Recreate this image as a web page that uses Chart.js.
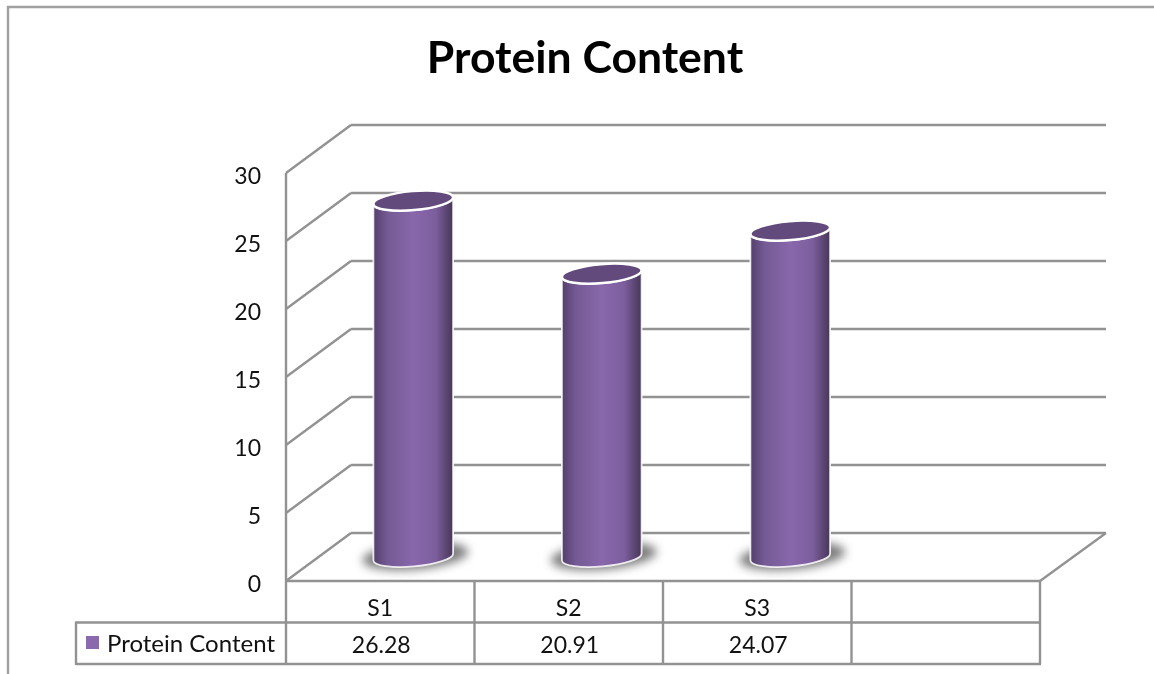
<!DOCTYPE html>
<html>
<head>
<meta charset="utf-8">
<title>Protein Content</title>
<script src="https://cdn.jsdelivr.net/npm/chart.js@4"></script>
<style>
  html, body { margin: 0; padding: 0; background: #fff; overflow: hidden; }
  canvas { display: block; }
</style>
</head>
<body>
<canvas id="chart" width="1154" height="674"></canvas>
<script>
const categories = ['S1', 'S2', 'S3', ''];
const proteinContent = [26.28, 20.91, 24.07, null];
const valueLabels = ['26.28', '20.91', '24.07', ''];
const seriesName = 'Protein Content';
const titleText = 'Protein Content';

const FONT = 'Lato, "Open Sans", sans-serif';
const LINE = '#929292';
const LINE_WIDTH = 2.4;
const DEPTH_X = 65;
const DEPTH_Y = 48;
const TILT = -5 * Math.PI / 180;
const TABLE_ROW = 41.5;

function segment(ctx, x1, y1, x2, y2) {
  ctx.beginPath();
  ctx.moveTo(x1, y1);
  ctx.lineTo(x2, y2);
  ctx.stroke();
}

// Frame, back wall, side wall and floor of the 3-D plot box.
const plotBox = {
  id: 'plotBox',
  beforeDatasetsDraw(chart) {
    const { ctx, chartArea: a, scales: { y } } = chart;
    ctx.save();
    ctx.strokeStyle = '#a0a0a0';
    ctx.lineWidth = LINE_WIDTH;
    ctx.beginPath();
    ctx.moveTo(8, 674);
    ctx.lineTo(8, 7);
    ctx.lineTo(1154, 7);
    ctx.stroke();

    ctx.strokeStyle = LINE;
    y.ticks.forEach(t => {
      const py = y.getPixelForValue(t.value);
      segment(ctx, a.left, py, a.left + DEPTH_X, py - DEPTH_Y);
      segment(ctx, a.left + DEPTH_X, py - DEPTH_Y, a.right + DEPTH_X + 1, py - DEPTH_Y);
    });
    segment(ctx, a.left, a.top, a.left, a.bottom);
    segment(ctx, a.right, a.bottom, a.right + DEPTH_X + 1, a.bottom - DEPTH_Y);
    ctx.restore();
  }
};

// Bars are rendered as cylinders standing halfway into the box depth.
const cylinders = {
  id: 'cylinders',
  beforeDatasetDraw(chart, args) {
    const { ctx } = chart;
    const meta = args.meta;
    meta.data.forEach((bar, i) => {
      if (proteinContent[i] === null) return;
      const cx = bar.x + DEPTH_X / 2 + 0.5;
      const rx = bar.width / 2;
      const ry = 9.5;
      const top = bar.y - DEPTH_Y / 2 + 1;
      const base = bar.base - DEPTH_Y / 2;

      // soft shadow on the floor
      ctx.save();
      ctx.filter = 'blur(5px)';
      ctx.fillStyle = '#7d7d7d';
      ctx.beginPath();
      ctx.ellipse(cx + 2, base - 1, rx + 13, ry + 4, TILT, 0, Math.PI * 2);
      ctx.fill();
      ctx.restore();

      // body
      const g = ctx.createLinearGradient(cx - rx, 0, cx + rx, 0);
      g.addColorStop(0, '#533f6b');
      g.addColorStop(0.18, '#755a95');
      g.addColorStop(0.5, '#8867ab');
      g.addColorStop(0.78, '#7c5e9d');
      g.addColorStop(1, '#463657');
      ctx.save();
      ctx.beginPath();
      ctx.ellipse(cx, base, rx, ry, TILT, 0, Math.PI);
      ctx.ellipse(cx, top, rx, ry, TILT, Math.PI, 0, true);
      ctx.closePath();
      ctx.fillStyle = g;
      ctx.fill();
      ctx.strokeStyle = 'rgba(255,255,255,0.85)';
      ctx.lineWidth = 1.8;
      ctx.stroke();

      // lid
      ctx.beginPath();
      ctx.ellipse(cx, top, rx, ry, TILT, 0, Math.PI * 2);
      ctx.fillStyle = '#624a7c';
      ctx.fill();
      ctx.strokeStyle = '#ffffff';
      ctx.lineWidth = 2.5;
      ctx.stroke();
      ctx.restore();
    });
    return false;
  }
};

// Data table under the plot: category row, value row and legend key cell.
const dataTable = {
  id: 'dataTable',
  afterDraw(chart) {
    const { ctx, chartArea: a, scales: { x } } = chart;
    const row1 = a.bottom + TABLE_ROW;
    const row2 = row1 + TABLE_ROW;
    const half = (x.getPixelForValue(1) - x.getPixelForValue(0)) / 2;
    ctx.save();
    ctx.strokeStyle = LINE;
    ctx.lineWidth = LINE_WIDTH;
    segment(ctx, a.left - 1, a.bottom, a.right + 1, a.bottom);
    segment(ctx, 76, row1, a.right + 1, row1);
    segment(ctx, 76, row2, a.right + 1, row2);
    segment(ctx, 76, row1 - 1, 76, row2 + 1);
    segment(ctx, a.left, a.bottom, a.left, row2);
    categories.forEach((c, i) => {
      const right = x.getPixelForValue(i) + half;
      segment(ctx, right, a.bottom, right, row2);
    });

    ctx.fillStyle = '#111';
    ctx.font = '400 23px ' + FONT;
    ctx.textAlign = 'center';
    ctx.textBaseline = 'middle';
    valueLabels.forEach((v, i) => {
      if (v) ctx.fillText(v, x.getPixelForValue(i) + 1, row1 + TABLE_ROW / 2 + 2);
    });
    ctx.textAlign = 'left';
    ctx.font = '400 24px ' + FONT;
    ctx.fillText(seriesName, 107, row1 + TABLE_ROW / 2 + 1);
    ctx.fillStyle = '#8a69ad';
    ctx.fillRect(86, 636, 13, 13);
    ctx.restore();
  }
};

// Lato sits high on the middle baseline, so the value axis labels get a small nudge.
function nudgeLabels(scale) {
  if (scale.nudged) return;
  scale.nudged = true;
  const original = scale.drawLabels;
  scale.drawLabels = function (area) {
    const ctx = this.ctx;
    ctx.save();
    ctx.translate(0, 4);
    original.call(this, area);
    ctx.restore();
  };
}

new Chart(document.getElementById('chart'), {
  type: 'bar',
  data: {
    labels: categories,
    datasets: [{
      label: seriesName,
      data: proteinContent,
      backgroundColor: '#8a69ad',
      categoryPercentage: 1,
      barPercentage: 0.4244
    }]
  },
  plugins: [plotBox, cylinders, dataTable],
  options: {
    responsive: false,
    animation: false,
    layout: { padding: { left: 130, right: 114, top: 20, bottom: 0 } },
    plugins: {
      legend: { display: false },
      tooltip: { enabled: false },
      title: {
        display: true,
        text: titleText,
        color: '#000',
        font: { family: FONT, size: 44.5, weight: 'bold', lineHeight: 1.2 },
        padding: { top: 12, bottom: 87.6 }
      }
    },
    scales: {
      x: {
        grid: { display: false, drawTicks: false },
        border: { display: false },
        afterFit(scale) { scale.height = 93; },
        ticks: {
          color: '#111',
          font: { family: FONT, size: 23 },
          padding: 14,
          maxRotation: 0
        }
      },
      y: {
        min: 0,
        max: 30,
        grid: { display: false, drawTicks: false },
        border: { display: false },
        afterFit(scale) { scale.width = 156; },
        afterUpdate: nudgeLabels,
        ticks: {
          stepSize: 5,
          color: '#111',
          font: { family: FONT, size: 23 },
          padding: 25
        }
      }
    }
  }
});
</script>
</body>
</html>
